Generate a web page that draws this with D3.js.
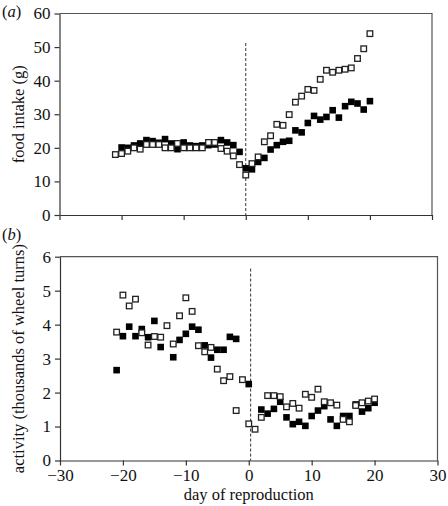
<!DOCTYPE html>
<html><head><meta charset="utf-8">
<script src="https://cdn.jsdelivr.net/npm/d3@7"></script>
<style>
body{margin:0;background:#fff;}
svg{display:block;font-family:"Liberation Serif","Times New Roman",serif;}
</style></head>
<body>
<script>
// Panel (a): food intake (g)
const openA_days = [-21,-20,-19,-18,-17,-16,-15,-14,-13,-12,-11,-10,-9,-8,-7,-6,-5,-4,-3,-2,-1,0,1,2,3,4,5,6,7,8,9,10,11,12,13,14,15,16,17,18,19,20];
const openA_vals = [18.0,18.3,19.0,20.0,19.6,21.0,21.0,21.0,20.0,20.0,21.3,20.0,20.0,20.0,20.0,21.6,21.6,19.8,19.0,17.6,15.0,11.9,15.3,17.3,21.8,23.6,27.0,26.7,29.9,33.6,35.4,37.4,37.1,40.4,43.1,42.5,43.1,43.4,43.8,46.6,49.5,54.0];
const filledA_days = [-20,-19,-18,-17,-16,-15,-14,-13,-12,-11,-10,-9,-8,-7,-6,-5,-4,-3,-2,-1,0,1,2,3,4,5,6,7,8,9,10,11,12,13,14,15,16,17,18,19,20];
const filledA_vals = [20.1,20.0,20.7,21.3,22.3,22.0,21.5,22.6,21.3,19.6,21.6,20.7,20.5,20.7,20.8,21.0,22.3,21.6,20.8,18.8,13.9,13.6,15.8,17.0,19.5,20.8,21.8,22.1,25.2,24.6,27.4,29.5,28.4,29.2,31.2,29.0,32.4,33.7,33.2,31.4,33.9];
// Panel (b): activity (thousands of wheel turns)
const openB_days = [-21,-20,-19,-18,-17,-16,-15,-14,-13,-12,-11,-10,-9,-8,-7,-6,-5,-4,-3,-2,-1,0,1,2,3,4,5,6,7,8,9,10,11,12,13,14,15,16,17,18,19,20];
const openB_vals = [3.78,4.87,4.55,4.75,3.76,3.40,3.65,3.63,3.97,3.43,4.26,4.79,4.39,3.38,3.20,3.33,2.69,2.35,2.47,1.47,2.38,1.08,0.92,1.27,1.91,1.91,1.88,1.58,1.68,1.54,1.95,1.86,2.10,1.73,1.70,1.63,1.21,1.14,1.62,1.70,1.75,1.81];
const filledB_days = [-21,-20,-19,-18,-17,-16,-15,-14,-12,-11,-10,-9,-8,-7,-6,-5,-4,-3,-2,0,2,3,4,5,6,7,8,9,10,11,12,13,14,15,16,17,18,19,20];
const filledB_vals = [2.66,3.66,3.94,3.66,3.87,3.63,4.11,3.34,3.04,3.55,3.73,3.94,3.85,3.39,3.03,3.26,3.26,3.64,3.58,2.25,1.50,1.38,1.52,1.73,1.27,1.07,1.14,1.02,1.31,1.47,1.60,1.21,1.02,1.31,1.31,1.65,1.44,1.54,1.70];
const xTicks = [-30,-20,-10,0,10,20,30];
const yTicksA = [0,10,20,30,40,50,60];
const yTicksB = [0,1,2,3,4,5,6];
const dashA = 51.2, dashB = 5.65, dashDayA = 0, dashDayB = 0.3;

const W = 448, H = 506;
const svg = d3.select("body").append("svg").attr("width", W).attr("height", H);
const fmt = d => d < 0 ? "\u2212" + Math.abs(d) : String(d);
const SZ = 6.6;

function panel(o) {
  const x = d3.scaleLinear().domain([-30, 30]).range([o.x0, o.x1]);
  const y = d3.scaleLinear().domain(o.ydom).range([o.y0, o.y1]);
  const g = svg.append("g");
  // frame (top + right)
  g.append("path").attr("d", `M${o.x0},${o.y1}H${o.x1}V${o.y0}`)
    .attr("fill", "none").attr("stroke", "#555").attr("stroke-width", 1.2);
  // dashed line
  g.append("line").attr("x1", x(o.dashDay)).attr("x2", x(o.dashDay))
    .attr("y1", y(o.dashTop)).attr("y2", y(0))
    .attr("stroke", "#333").attr("stroke-width", 1).attr("stroke-dasharray", "3,2");
  // axes
  const xa = g.append("g").attr("transform", `translate(0,${o.y0})`)
    .call(d3.axisBottom(x).tickValues(xTicks).tickSize(5).tickSizeOuter(0).tickFormat(o.xlabels ? fmt : ""));
  const ya = g.append("g").attr("transform", `translate(${o.x0},0)`)
    .call(d3.axisLeft(y).tickValues(o.yticks).tickSize(5).tickSizeOuter(0).tickFormat(d => String(d)));
  [xa, ya].forEach(a => {
    a.attr("font-family", null);
    a.select(".domain").attr("stroke", "#333").attr("stroke-width", 1.2);
    a.selectAll(".tick line").attr("stroke", "#333").attr("stroke-width", 1.2);
    a.selectAll("text").attr("font-size", 17).attr("fill", "#111");
  });
  ya.selectAll("text").attr("x", -9);
  xa.selectAll("text").attr("y", 8);
  // points: filled first, open on top
  g.selectAll(".f").data(o.filledDays.map((d, i) => [d, o.filledVals[i]])).join("rect")
    .attr("x", d => x(d[0]) - SZ / 2).attr("y", d => y(d[1]) - SZ / 2)
    .attr("width", SZ).attr("height", SZ).attr("fill", "#000");
  g.selectAll(".o").data(o.openDays.map((d, i) => [d, o.openVals[i]])).join("rect")
    .attr("x", d => x(d[0]) - SZ / 2 + 0.5).attr("y", d => y(d[1]) - SZ / 2 + 0.5)
    .attr("width", SZ - 1).attr("height", SZ - 1).attr("fill", "#fff")
    .attr("stroke", "#222").attr("stroke-width", 1.3);
  // y title
  g.append("text").attr("transform", `translate(${o.titleX},${(o.y0 + o.y1) / 2}) rotate(-90)`)
    .attr("text-anchor", "middle").attr("font-size", 16.5).attr("fill", "#111").text(o.title);
  // panel label
  const lab = g.append("text").attr("x", 2).attr("y", o.labY).attr("font-size", 16.5).attr("fill", "#111");
  lab.append("tspan").text("(");
  lab.append("tspan").attr("font-style", "italic").text(o.lab);
  lab.append("tspan").text(")");
}

panel({x0: 59.5, x1: 432, y0: 215, y1: 13.5, ydom: [0, 60], yticks: yTicksA, xlabels: false,
  dashDay: dashDayA, dashTop: dashA,
  openDays: openA_days, openVals: openA_vals, filledDays: filledA_days, filledVals: filledA_vals,
  title: "food intake (g)", titleX: 24, lab: "a", labY: 17});
panel({x0: 60, x1: 437.5, y0: 460.5, y1: 256.7, ydom: [0, 6], yticks: yTicksB, xlabels: true,
  dashDay: dashDayB, dashTop: dashB,
  openDays: openB_days, openVals: openB_vals, filledDays: filledB_days, filledVals: filledB_vals,
  title: "activity (thousands of wheel turns)", titleX: 24, lab: "b", labY: 240});

svg.append("text").attr("x", (60 + 437.5) / 2).attr("y", 500).attr("text-anchor", "middle")
  .attr("font-size", 16.5).attr("fill", "#111").text("day of reproduction");
</script>
</body></html>
